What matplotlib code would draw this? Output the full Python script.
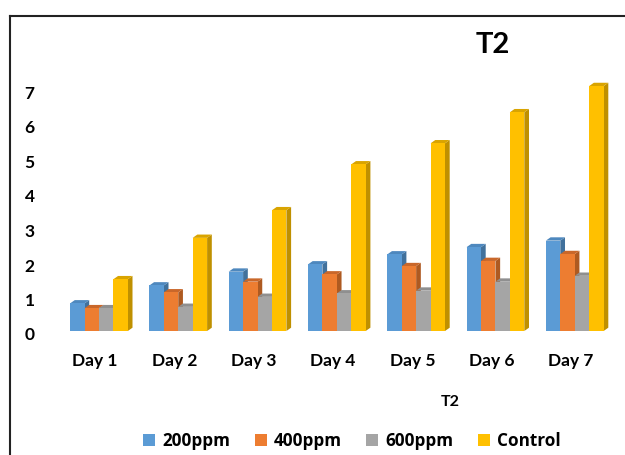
import matplotlib
matplotlib.use("Agg")
import matplotlib.pyplot as plt
import matplotlib.transforms as mtransforms
from matplotlib.patches import Polygon, Patch
from matplotlib.lines import Line2D
import numpy as np

days = ["Day 1", "Day 2", "Day 3", "Day 4", "Day 5", "Day 6", "Day 7"]
series_names = ["200ppm", "400ppm", "600ppm", "Control"]
v200 = [0.8, 1.32, 1.72, 1.93, 2.22, 2.43, 2.62]
v400 = [0.66, 1.12, 1.43, 1.64, 1.88, 2.03, 2.23]
v600 = [0.66, 0.7, 0.99, 1.09, 1.17, 1.43, 1.6]
vctl = [1.5, 2.7, 3.5, 4.83, 5.44, 6.34, 7.1]
yticks = [0, 1, 2, 3, 4, 5, 6, 7]

front = ["#5B9BD5", "#ED7D31", "#A5A5A5", "#FFC000"]
side = ["#41719C", "#AE5A21", "#7C7C7C", "#BF9000"]
top = ["#4E88BE", "#C9672A", "#8F8F8F", "#D9A400"]

W, H = 625, 455
fig = plt.figure(figsize=(W / 100, H / 100), dpi=100)
left_px, right_px = 55.4, 610.5
y0_px, per_unit = 331.0, 34.5
ylim_top = 7.6
ax_h = ylim_top * per_unit
ax = fig.add_axes([left_px / W, (H - y0_px) / H, (right_px - left_px) / W, ax_h / H])
ax.set_xlim(-0.5, 6.5)
ax.set_ylim(0, ylim_top)
for s in ax.spines.values():
    s.set_visible(False)

x = np.arange(len(days))
bw = 0.182
start = -0.315
dx = 4.7 / ((right_px - left_px) / 7)
dy = 3.3 / per_unit
all_vals = [v200, v400, v600, vctl]
for i in range(len(days)):
    for j, vals in enumerate(all_vals):
        x0 = x[i] + start + j * bw
        x1 = x0 + bw
        h = vals[i]
        ax.add_patch(Polygon([(x1, 0), (x1 + dx, dy), (x1 + dx, h + dy), (x1, h)],
                             closed=True, facecolor=side[j], edgecolor="none", zorder=2 + i * 10 + j * 2))
        ax.add_patch(Polygon([(x0, h), (x0 + dx, h + dy), (x1 + dx, h + dy), (x1, h)],
                             closed=True, facecolor=top[j], edgecolor="none", zorder=2 + i * 10 + j * 2))
        ax.bar(x0, h, width=bw, align="edge", color=front[j], edgecolor="none",
               zorder=3 + i * 10 + j * 2)

fam = ["Lato", "DejaVu Sans"]
ax.set_xticks(x)
ax.set_xticklabels(days, fontsize=12.5, fontweight="bold", family=fam)
ax.set_yticks(yticks)
ax.set_yticklabels([str(t) for t in yticks], fontsize=12.5, fontweight="bold", family=fam)
ax.tick_params(axis="both", length=0)
ax.tick_params(axis="x", pad=16)
ax.tick_params(axis="y", pad=15)
shift = mtransforms.ScaledTranslation(0, -3 / 100, fig.dpi_scale_trans)
for lbl in ax.get_yticklabels():
    lbl.set_transform(lbl.get_transform() + shift)

fig.text(493 / W, 1 - 45 / H, "T2", fontsize=21, fontweight="bold", family=fam,
         ha="center", va="center")
fig.text(450 / W, 1 - 402 / H, "T2", fontsize=11.5, fontweight="bold", family=fam,
         ha="center", va="center")

handles = [Patch(facecolor=c, edgecolor="none") for c in front]
fig.legend(handles, series_names, loc="center", bbox_to_anchor=(352 / W, 1 - 441 / H),
           ncol=4, frameon=False, prop={"family": ["Open Sans", "DejaVu Sans"], "weight": "bold", "size": 12.3},
           handlelength=0.7, handleheight=0.7, handletextpad=0.4, columnspacing=1.45)

fig.add_artist(Line2D([10 / W, 1.0], [1 - 16 / H, 1 - 16 / H], color="#222222", lw=1.5))
fig.add_artist(Line2D([10 / W, 10 / W], [1 - 16 / H, 0.0], color="#222222", lw=1.5))

fig.savefig("out.png", dpi=100)
